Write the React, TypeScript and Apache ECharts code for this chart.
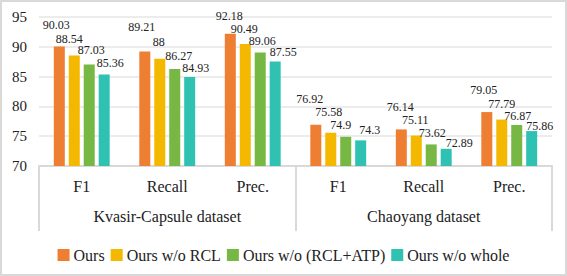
import React, { useEffect, useRef } from "react";
import * as echarts from "echarts";

const metrics = ["F1", "Recall", "Prec.", "F1", "Recall", "Prec."];
const datasets = ["Kvasir-Capsule dataset", "Chaoyang dataset"];
const seriesNames = ["Ours", "Ours w/o RCL", "Ours w/o (RCL+ATP)", "Ours w/o whole"];
const ours = [90.03, 89.21, 92.18, 76.92, 76.14, 79.05];
const woRCL = [88.54, 88, 90.49, 75.58, 75.11, 77.79];
const woRCLATP = [87.03, 86.27, 89.06, 74.9, 73.62, 76.87];
const woWhole = [85.36, 84.93, 87.55, 74.3, 72.89, 75.86];

const colors = ["#EE7F32", "#F4B800", "#77B744", "#2FC2B3"];
// label nudges [dx, dy] per series, per category (style only)
const labelShift = [
  [[-3, -16], [-3, -18.5], [-1, -12], [-6, -20], [-1, -16], [-3, -16]],
  [[-5, -10.5], [-1, -11], [-1, -9], [-2, -15], [-1, -9.5], [0, -9.5]],
  [[2, -8.5], [4, -7], [2, -5.5], [-5, -6], [1, -5], [1, -3.5]],
  [[6, -5.5], [6, -3], [8, -3.5], [9, -4.5], [13, 0], [8, 1]],
];
const FONT = "Liberation Serif";

export default function App() {
  const ref = useRef<HTMLDivElement>(null);
  useEffect(() => {
    if (!ref.current) return;
    const chart = echarts.init(ref.current, null, { renderer: "svg" });
    const allData = [ours, woRCL, woRCLATP, woWhole];
    chart.setOption({
      animation: false,
      textStyle: { fontFamily: FONT },
      grid: { left: 39, right: 15, top: 17, bottom: 110, containLabel: false },
      graphic: [
        {
          type: "rect",
          shape: { x: 1, y: 1, width: 565, height: 274 },
          style: { fill: "none", stroke: "#d9d9d9", lineWidth: 2 },
          silent: true,
        },
      ],
      legend: {
        data: seriesNames,
        top: 242,
        left: "center",
        itemWidth: 12,
        itemHeight: 12,
        itemGap: 6,
        icon: "rect",
        textStyle: { fontFamily: FONT, fontSize: 16, color: "#222", padding: [0, 0, 0, -1] },
      },
      xAxis: [
        {
          type: "category",
          data: metrics,
          position: "bottom",
          axisLine: { show: true, lineStyle: { color: "#d9d9d9", width: 2 } },
          axisTick: { show: false },
          axisLabel: { fontFamily: FONT, fontSize: 16, color: "#222", margin: 12 },
        },
        {
          type: "category",
          data: datasets,
          position: "bottom",
          axisLine: { show: false },
          axisTick: { show: true, length: 65, lineStyle: { color: "#d9d9d9", width: 2 } },
          axisLabel: { fontFamily: FONT, fontSize: 16, color: "#222", margin: 42 },
        },
      ],
      yAxis: {
        type: "value",
        min: 70,
        max: 95,
        interval: 5,
        axisLine: { show: false },
        axisTick: { show: false },
        axisLabel: { fontFamily: FONT, fontSize: 15, color: "#222", margin: 12 },
        splitLine: { lineStyle: { color: "#e6e6e6", width: 1.5 } },
      },
      series: seriesNames.map((name, i) => ({
        name,
        type: "bar",
        xAxisIndex: 0,
        data: allData[i].map((v, j) => ({
          value: v,
          label: { offset: labelShift[i][j] },
        })),
        barWidth: 11,
        barGap: "36%",
        itemStyle: { color: colors[i] },
        label: {
          show: true,
          position: "top",
          distance: 0,
          lineHeight: 12,
          fontFamily: FONT,
          fontSize: 12,
          color: "#222",
        },
      })),
    });
    return () => chart.dispose();
  }, []);
  return (
    <div
      ref={ref}
      style={{ position: "absolute", left: 0, top: 0, width: 567, height: 276 }}
    />
  );
}
